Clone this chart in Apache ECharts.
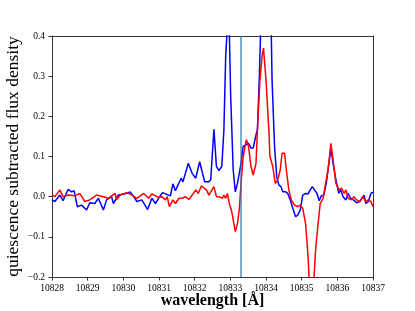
<!DOCTYPE html>
<html>
<head>
<meta charset="utf-8">
<script src="https://cdn.jsdelivr.net/npm/echarts@6/dist/echarts.min.js"></script>
<style>html,body{margin:0;padding:0;background:#fff}#c{width:415px;height:311px}</style>
</head>
<body>
<div id="c"></div>
<script>
const blueX = [10828.0, 10828.08, 10828.22, 10828.31, 10828.45, 10828.55, 10828.62, 10828.71, 10828.83, 10828.97, 10829.06, 10829.20, 10829.30, 10829.44, 10829.53, 10829.67, 10829.72, 10829.86, 10830.05, 10830.19, 10830.29, 10830.38, 10830.52, 10830.68, 10830.80, 10830.90, 10830.99, 10831.10, 10831.18, 10831.32, 10831.39, 10831.46, 10831.51, 10831.62, 10831.67, 10831.74, 10831.82, 10831.87, 10831.93, 10832.03, 10832.14, 10832.21, 10832.28, 10832.40, 10832.45, 10832.54, 10832.61, 10832.68, 10832.76, 10832.82, 10832.87, 10832.92, 10832.97, 10833.01, 10833.08, 10833.14, 10833.20, 10833.30, 10833.36, 10833.44, 10833.51, 10833.58, 10833.64, 10833.72, 10833.76, 10833.81, 10833.88, 10833.96, 10834.05, 10834.13, 10834.17, 10834.24, 10834.30, 10834.36, 10834.42, 10834.47, 10834.55, 10834.61, 10834.68, 10834.75, 10834.83, 10834.89, 10834.96, 10835.03, 10835.11, 10835.18, 10835.24, 10835.30, 10835.36, 10835.43, 10835.49, 10835.55, 10835.62, 10835.69, 10835.74, 10835.82, 10835.88, 10835.96, 10836.04, 10836.09, 10836.16, 10836.24, 10836.30, 10836.37, 10836.45, 10836.54, 10836.63, 10836.75, 10836.80, 10836.87, 10836.94, 10837.0];
const blueY = [-0.008, -0.012, 0.004, -0.010, 0.018, 0.012, 0.015, -0.025, -0.021, -0.033, -0.015, -0.017, -0.004, -0.033, -0.008, 0.000, -0.017, 0.004, 0.007, 0.012, 0.000, -0.012, -0.008, -0.032, -0.004, -0.017, -0.004, 0.010, 0.007, 0.002, 0.032, 0.015, 0.017, 0.046, 0.037, 0.058, 0.083, 0.083, 0.058, 0.046, 0.087, 0.062, 0.037, 0.037, 0.042, 0.168, 0.075, 0.065, 0.075, 0.167, 0.35, 0.43, 0.42, 0.25, 0.067, 0.012, 0.033, 0.083, 0.125, 0.129, 0.133, 0.121, 0.121, 0.154, 0.167, 0.29, 0.5, 0.65, 0.7, 0.5, 0.29, 0.125, 0.05, 0.029, 0.025, 0.012, 0.012, 0.008, -0.008, -0.029, -0.05, -0.046, -0.033, 0.004, 0.008, 0.007, 0.017, 0.025, 0.017, 0.008, -0.010, 0.002, 0.004, 0.033, 0.067, 0.121, 0.083, 0.042, 0.008, 0.018, 0.000, -0.008, 0.008, -0.004, -0.008, -0.015, -0.012, 0.004, -0.017, -0.012, 0.008, 0.011];
const redX = [10828.0, 10828.08, 10828.22, 10828.31, 10828.45, 10828.64, 10828.78, 10828.92, 10829.06, 10829.25, 10829.44, 10829.58, 10829.77, 10829.81, 10829.91, 10830.10, 10830.24, 10830.38, 10830.57, 10830.71, 10830.80, 10830.99, 10831.08, 10831.18, 10831.23, 10831.29, 10831.39, 10831.46, 10831.56, 10831.65, 10831.74, 10831.84, 10831.93, 10832.03, 10832.10, 10832.19, 10832.26, 10832.33, 10832.40, 10832.45, 10832.54, 10832.61, 10832.68, 10832.78, 10832.82, 10832.87, 10832.92, 10832.97, 10833.04, 10833.14, 10833.20, 10833.25, 10833.30, 10833.36, 10833.42, 10833.45, 10833.51, 10833.58, 10833.64, 10833.72, 10833.76, 10833.83, 10833.89, 10833.93, 10834.00, 10834.08, 10834.11, 10834.19, 10834.26, 10834.33, 10834.40, 10834.45, 10834.52, 10834.57, 10834.64, 10834.71, 10834.80, 10834.89, 10834.96, 10835.03, 10835.11, 10835.18, 10835.27, 10835.39, 10835.46, 10835.52, 10835.60, 10835.67, 10835.74, 10835.82, 10835.88, 10835.96, 10836.05, 10836.12, 10836.19, 10836.24, 10836.30, 10836.40, 10836.46, 10836.54, 10836.63, 10836.71, 10836.80, 10836.87, 10836.94, 10837.0];
const redY = [0.004, 0.000, 0.017, 0.000, 0.004, 0.002, 0.008, -0.012, -0.008, 0.004, 0.000, -0.004, 0.008, -0.008, 0.004, 0.010, 0.004, -0.004, 0.008, -0.004, 0.007, -0.002, 0.000, -0.008, 0.000, -0.025, -0.008, -0.017, -0.004, -0.004, 0.000, -0.007, 0.004, 0.017, 0.008, 0.027, 0.021, 0.017, 0.004, 0.000, 0.025, 0.000, 0.000, -0.004, 0.004, -0.004, 0.008, -0.017, -0.037, -0.087, -0.067, -0.033, 0.033, 0.100, 0.129, 0.142, 0.125, 0.075, 0.054, 0.083, 0.167, 0.29, 0.35, 0.37, 0.29, 0.167, 0.100, 0.075, 0.033, 0.042, 0.067, 0.108, 0.108, 0.067, 0.017, -0.008, -0.021, -0.025, -0.021, -0.029, -0.067, -0.150, -0.32, -0.133, -0.067, -0.017, -0.004, 0.033, 0.067, 0.133, 0.092, 0.033, 0.017, 0.021, 0.008, 0.017, -0.004, -0.008, 0.000, -0.008, -0.012, 0.000, -0.012, -0.008, -0.012, -0.025];
const lineCenter = 10833.3;
const xMin = 10828, xMax = 10837, xStep = 1;
const yMin = -0.2, yMax = 0.4, yStep = 0.1;
const xTitle = 'wavelength [Å]';
const yTitle = 'quiescence subtracted flux density';

const pair = (xs, ys) => xs.map((x, i) => [x, ys[i]]);
const serif = 'Liberation Serif';
const chart = echarts.init(document.getElementById('c'), null, {renderer: 'canvas'});
const axisLine = {show: true, onZero: false, lineStyle: {color: '#000', width: 0.8}};
chart.setOption({
  animation: false,
  backgroundColor: '#fff',
  grid: {left: 52, right: 42, top: 36, bottom: 34, containLabel: false, outerBoundsMode: 'none'},
  xAxis: [{
    type: 'value', min: xMin, max: xMax, interval: xStep,
    axisLine: axisLine,
    axisTick: {show: true, inside: false, length: 3.5, lineStyle: {color: '#000', width: 0.8}},
    axisLabel: {color: '#000', fontFamily: serif, fontSize: 9.5, margin: 6, formatter: v => String(v)},
    splitLine: {show: false},
    name: xTitle, nameLocation: 'middle', nameGap: 16, nameMoveOverlap: false,
    nameTextStyle: {fontFamily: serif, fontWeight: 'bold', fontSize: 16, color: '#000'}
  }, {
    type: 'value', position: 'top', min: xMin, max: xMax,
    axisLine: axisLine, axisTick: {show: false}, axisLabel: {show: false}, splitLine: {show: false}
  }],
  yAxis: [{
    type: 'value', min: yMin, max: yMax, interval: yStep,
    axisLine: axisLine,
    axisTick: {show: true, inside: false, length: 3.5, lineStyle: {color: '#000', width: 0.8}},
    axisLabel: {color: '#000', fontFamily: serif, fontSize: 9.5, margin: 7,
      formatter: v => (v < -1e-9 ? '\u2212' : '') + Math.abs(v).toFixed(1)},
    splitLine: {show: false},
    name: yTitle, nameLocation: 'middle', nameGap: 30, nameRotate: 90, nameMoveOverlap: false,
    nameTextStyle: {fontFamily: serif, fontSize: 17.5, color: '#000'}
  }, {
    type: 'value', position: 'right', min: yMin, max: yMax,
    axisLine: axisLine, axisTick: {show: false}, axisLabel: {show: false}, splitLine: {show: false}
  }],
  series: [
    {type: 'line', data: pair(blueX, blueY), symbol: 'none', clip: true,
      lineStyle: {color: '#0000ff', width: 1.5}},
    {type: 'line', data: pair(redX, redY), symbol: 'none', clip: true,
      lineStyle: {color: '#ff0000', width: 1.5}},
    {type: 'line', data: [[lineCenter, yMin], [lineCenter, yMax]], symbol: 'none', clip: true,
      lineStyle: {color: '#1f77b4', width: 1.2}}
  ]
});
</script>
</body>
</html>
